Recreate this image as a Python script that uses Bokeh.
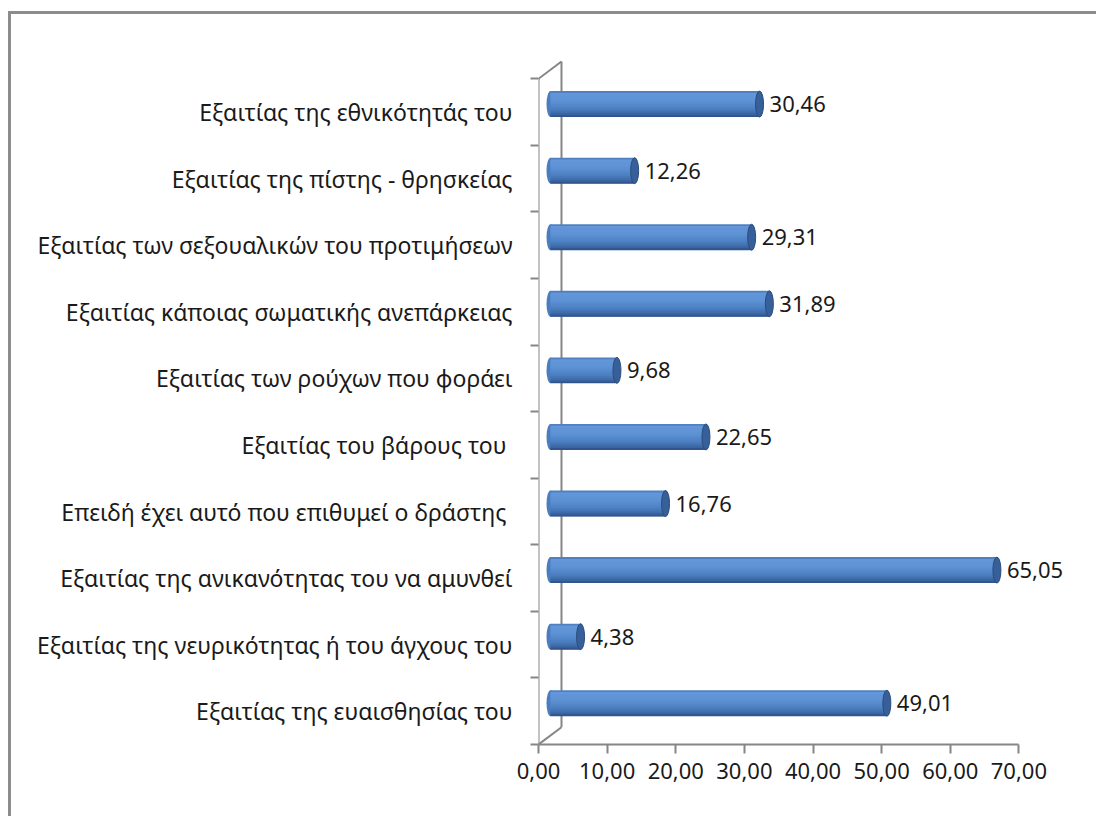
from bokeh.plotting import figure
from bokeh.models import FixedTicker, ColumnDataSource
from bokeh.embed import file_html
from bokeh.resources import INLINE
from bokeh.core.properties import value

# Categories, bottom to top (Excel order)
categories = [
    "Εξαιτίας της ευαισθησίας του",
    "Εξαιτίας της νευρικότητας ή του άγχους του",
    "Εξαιτίας της ανικανότητας του να αμυνθεί",
    "Επειδή έχει αυτό  που επιθυμεί ο δράστης",
    "Εξαιτίας του βάρους του ",
    "Εξαιτίας των ρούχων που φοράει",
    "Εξαιτίας κάποιας σωματικής ανεπάρκειας",
    "Εξαιτίας των σεξουαλικών του προτιμήσεων",
    "Εξαιτίας της πίστης - θρησκείας",
    "Εξαιτίας της εθνικότητάς του",
]
values = [49.01, 4.38, 65.05, 16.76, 22.65, 9.68, 31.89, 29.31, 12.26, 30.46]
value_labels = ["49,01", "4,38", "65,05", "16,76", "22,65", "9,68", "31,89", "29,31", "12,26", "30,46"]
x_ticks = [0, 10, 20, 30, 40, 50, 60, 70]
x_tick_labels = ["0,00", "10,00", "20,00", "30,00", "40,00", "50,00", "60,00", "70,00"]

FONT = "Noto Sans"
AXIS = "#868686"
TXT = "#1a1a1a"
n = len(categories)
XMAX = 70
XVIEW = 80
YTOP = 10.35

# 3D depth (data units): back wall, bar depth
wall_dx, wall_dy = 3.35, 0.26
bar_dx, bar_dy = 1.75, 0.12
bar_h = 0.39

p = figure(width=1088, height=805, output_backend="svg", toolbar_location=None,
           x_range=(0, XVIEW), y_range=(0, YTOP),
           min_border_left=527, min_border_right=12, min_border_top=41, min_border_bottom=75)
p.styles = {"border-left": "3px solid #8c8c8c", "border-top": "3px solid #8c8c8c",
            "margin-top": "11px", "margin-left": "8px"}
p.outline_line_color = None
p.grid.visible = False
p.background_fill_color = "white"

# x axis
p.xaxis.bounds = (0, XMAX)
p.xaxis.ticker = FixedTicker(ticks=x_ticks)
p.xaxis.major_label_overrides = {t: l for t, l in zip(x_ticks, x_tick_labels)}
p.xaxis.axis_line_color = AXIS
p.xaxis.axis_line_width = 2
p.xaxis.major_tick_line_color = AXIS
p.xaxis.major_tick_line_width = 2
p.xaxis.major_tick_out = 9
p.xaxis.major_tick_in = 0
p.xaxis.minor_tick_line_color = None
p.xaxis.major_label_standoff = 9
p.xaxis.major_label_text_font = FONT
p.xaxis.major_label_text_font_size = "22px"
p.xaxis.major_label_text_color = TXT

# y axis: labels at centres, tick marks at category boundaries
centers = [i + 0.5 for i in range(n)]
p.yaxis.ticker = FixedTicker(ticks=centers, minor_ticks=list(range(n + 1)))
p.yaxis.major_label_overrides = {c: lab for c, lab in zip(centers, categories)}
p.yaxis.axis_line_color = None
p.yaxis.major_tick_line_color = None
p.yaxis.minor_tick_line_color = AXIS
p.yaxis.minor_tick_line_width = 2
p.yaxis.minor_tick_out = 8
p.yaxis.minor_tick_in = 0
p.yaxis.major_tick_out = 0
p.yaxis.major_label_standoff = 18
p.yaxis.major_label_text_font = FONT
p.yaxis.major_label_text_font_size = "23px"
p.yaxis.major_label_text_color = TXT

# 3D walls
p.segment(x0=[0, 0, 0, wall_dx], y0=[0, 0, n, wall_dy],
          x1=[0, wall_dx, wall_dx, wall_dx], y1=[n, wall_dy, n + wall_dy, n + wall_dy],
          line_color=AXIS, line_width=2)

# cylinder bars (shifted back into depth: right and up)
yc = [c + bar_dy for c in centers]
right = [v + bar_dx for v in values]
src = ColumnDataSource(dict(yc=yc, right=right, left=[bar_dx] * n, lab=value_labels))

# left end cap
p.ellipse(x="left", y="yc", width=8, height=bar_h, width_units="screen",
          fill_color="#4A7CBE", line_color=None, source=src)

stops = [(0.0, (0x45, 0x74, 0xB2)), (0.10, (0x63, 0x97, 0xD9)), (0.40, (0x5C, 0x91, 0xD4)),
         (0.68, (0x4C, 0x7F, 0xC1)), (0.88, (0x3C, 0x67, 0xA4)), (1.0, (0x2B, 0x4C, 0x80))]

def grad(t):
    for (t0, c0), (t1, c1) in zip(stops[:-1], stops[1:]):
        if t0 <= t <= t1:
            f = (t - t0) / (t1 - t0) if t1 > t0 else 0
            return "#%02x%02x%02x" % tuple(int(round(a + (b - a) * f)) for a, b in zip(c0, c1))
    return "#%02x%02x%02x" % stops[-1][1]

nstrip = 14
sh = bar_h / nstrip
for k in range(nstrip):
    t = (k + 0.5) / nstrip
    tops = [y + bar_h / 2 - k * sh for y in yc]
    ext = 1.8 if k < nstrip - 1 else 1.0
    bots = [tp - sh * ext for tp in tops]
    p.quad(left=[bar_dx] * n, right=right, top=tops, bottom=bots,
           fill_color=grad(t), line_color=None)

# right end cap
p.ellipse(x="right", y="yc", width=8, height=bar_h, width_units="screen",
          fill_color="#37609A", line_color="#2B4C7C", line_width=1, source=src)

# value labels
p.text(x="right", y="yc", text="lab", source=src, x_offset=10,
       text_font=value(FONT), text_font_size="22px", text_color=TXT,
       text_baseline="middle", text_align="left")

open("out.html", "w").write(file_html(p, INLINE))
